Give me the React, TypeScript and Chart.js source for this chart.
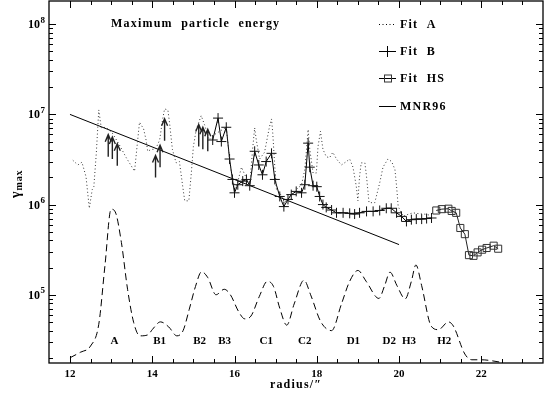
import React, { useEffect, useRef } from "react";
import { Chart, registerables } from "chart.js";
Chart.register(...registerables);

// ---- data ----
const fitAX = [12.07, 12.19, 12.29, 12.39, 12.47, 12.54, 12.58, 12.64, 12.7, 12.76, 12.88, 13.03, 13.2, 13.37, 13.57, 13.69, 13.79, 13.85, 13.89, 13.98, 14.08, 14.18, 14.25, 14.3, 14.38, 14.42, 14.49, 14.58, 14.66, 14.74, 14.79, 14.89, 14.95, 15.0, 15.07, 15.19, 15.27, 15.39, 15.52, 15.64, 15.8, 15.88, 15.95, 16.03, 16.17, 16.25, 16.37, 16.44, 16.49, 16.53, 16.61, 16.73, 16.85, 16.9, 16.93, 16.98, 17.02, 17.1, 17.22, 17.34, 17.5, 17.63, 17.71, 17.79, 17.83, 17.91, 17.99, 18.03, 18.09, 18.15, 18.23, 18.31, 18.39, 18.48, 18.6, 18.72, 18.8, 18.88, 18.96, 19.0, 19.04, 19.08, 19.17, 19.21, 19.27, 19.41, 19.53, 19.61, 19.73, 19.82, 19.9, 19.94, 19.98, 20.1, 20.22, 20.34, 20.5, 20.67, 20.83];
const fitAY = [3.1e6, 2.75e6, 2.95e6, 2.04e6, 9.1e5, 1.46e6, 1.58e6, 3.7e6, 1.12e7, 7.1e6, 7.2e6, 6.2e6, 4.6e6, 3.3e6, 2.34e6, 8.2e6, 6.9e6, 5.2e6, 3.9e6, 4.1e6, 4.1e6, 5.2e6, 8.7e6, 1.15e7, 1.12e7, 8.1e6, 4.1e6, 2.9e6, 3.0e6, 1.6e6, 1.1e6, 1.1e6, 2.24e6, 4.4e6, 6.8e6, 9.7e6, 7.7e6, 5.2e6, 6.0e6, 6.5e6, 7.2e6, 3.2e6, 1.9e6, 1.46e6, 2.6e6, 2.14e6, 1.62e6, 4.1e6, 7.1e6, 5.2e6, 3.2e6, 3.8e6, 7.3e6, 8.9e6, 6.2e6, 2.6e6, 1.46e6, 1.35e6, 1.05e6, 1.23e6, 1.46e6, 1.66e6, 2.45e6, 6.8e6, 4.1e6, 2.24e6, 2.24e6, 4.4e6, 6.5e6, 4.1e6, 3.4e6, 3.3e6, 3.8e6, 3.2e6, 2.75e6, 3.0e6, 3.2e6, 2.6e6, 1.6e6, 1.1e6, 2.04e6, 2.9e6, 2.9e6, 2.04e6, 1.05e6, 1.05e6, 1.74e6, 2.6e6, 3.2e6, 3.0e6, 2.45e6, 1.6e6, 9.5e5, 7.4e5, 7.8e5, 8.1e5, 7.9e5, 7.8e5, 7.4e5];

const fitBX = [15.47, 15.6, 15.68, 15.8, 15.88, 15.95, 16.0, 16.08, 16.2, 16.29, 16.37, 16.49, 16.59, 16.68, 16.77, 16.9, 16.98, 17.1, 17.2, 17.3, 17.38, 17.5, 17.63, 17.71, 17.79, 17.83, 17.91, 18.0, 18.07, 18.15, 18.23, 18.36, 18.48, 18.64, 18.8, 18.92, 19.04, 19.21, 19.37, 19.53, 19.69, 19.81, 19.94, 20.06, 20.18, 20.3, 20.42, 20.55, 20.67, 20.79];
const fitBY = [5.2e6, 9.1e6, 5.0e6, 7.2e6, 3.2e6, 1.9e6, 1.35e6, 1.66e6, 1.82e6, 1.9e6, 1.62e6, 3.9e6, 2.75e6, 2.14e6, 3.0e6, 3.7e6, 1.9e6, 1.23e6, 9.5e5, 1.14e6, 1.29e6, 1.4e6, 1.35e6, 1.66e6, 4.8e6, 2.6e6, 1.62e6, 1.58e6, 1.23e6, 1.0e6, 9.3e5, 8.7e5, 8.1e5, 8.1e5, 8.0e5, 7.85e5, 8.1e5, 8.4e5, 8.4e5, 8.6e5, 9.1e5, 9.1e5, 8.1e5, 7.4e5, 6.5e5, 6.8e5, 6.9e5, 6.9e5, 7.0e5, 7.1e5];

// lower limits (arrows) of Fit B
const limitX = [12.93, 13.03, 13.15, 14.08, 14.19, 14.3, 15.13, 15.23, 15.35];
const limitY = [3.4e6, 3.2e6, 2.7e6, 2.0e6, 2.6e6, 5.1e6, 4.4e6, 4.1e6, 3.9e6];

const fitHSX = [20.905, 21.04, 21.2, 21.28, 21.39, 21.49, 21.6, 21.7, 21.81, 21.91, 22.02, 22.13, 22.3, 22.41];
const fitHSY = [8.6e5, 8.9e5, 9.0e5, 8.5e5, 8.1e5, 5.5e5, 4.7e5, 2.75e5, 2.7e5, 2.95e5, 3.16e5, 3.3e5, 3.5e5, 3.24e5];

const mnrX = [12, 20];
const mnrY = [1.0e7, 3.6e5];

const profileX = [12.0, 12.25, 12.5, 12.7, 12.85, 13.0, 13.1, 13.25, 13.4, 13.55, 13.7, 13.9, 14.0, 14.2, 14.4, 14.6, 14.75, 14.9, 15.05, 15.2, 15.35, 15.55, 15.75, 15.9, 16.1, 16.25, 16.4, 16.6, 16.8, 16.95, 17.1, 17.27, 17.45, 17.69, 17.85, 18.1, 18.36, 18.6, 18.8, 19.0, 19.2, 19.51, 19.65, 19.78, 19.95, 20.15, 20.3, 20.41, 20.55, 20.78, 20.96, 21.2, 21.32, 21.6, 21.77, 22.0, 22.5];
const profileY = [2.0e4, 2.3e4, 2.7e4, 4.7e4, 2.1e5, 8.9e5, 8.3e5, 3.8e5, 1.15e5, 4.9e4, 3.5e4, 3.6e4, 4.1e4, 5.0e4, 4.4e4, 3.5e4, 4.0e4, 6.9e4, 1.23e5, 1.8e5, 1.55e5, 1.0e5, 1.15e5, 1.0e5, 6.5e4, 5.4e4, 5.8e4, 9.5e4, 1.41e5, 1.23e5, 7.1e4, 4.6e4, 7.9e4, 1.45e5, 1.0e5, 5.0e4, 4.0e4, 7.9e4, 1.41e5, 1.86e5, 1.41e5, 9.1e4, 1.26e5, 1.78e5, 1.26e5, 9.0e4, 1.41e5, 2.14e5, 1.26e5, 4.5e4, 4.1e4, 5.0e4, 4.5e4, 2.2e4, 1.9e4, 1.9e4, 1.78e4];

const regionNames = ["A", "B1", "B2", "B3", "C1", "C2", "D1", "D2", "H3", "H2"];
const regionX = [13.08, 14.18, 15.15, 15.76, 16.77, 17.71, 18.89, 19.76, 20.24, 21.1];
const regionLevel = 3.06e4;

const xTickValues = [12, 14, 16, 18, 20, 22];
const yTickValues = [1e5, 1e6, 1e7, 1e8];
const yTickExp = ["5", "6", "7", "8"];

const legendNames = ["Fit  A", "Fit  B", "Fit  HS", "MNR96"];
const titleText = "Maximum  particle  energy";
const xTitle = "radius/\u2033";

const FONT = '"Liberation Serif", "DejaVu Serif", serif';

const pts = (xs: number[], ys: number[]) => xs.map((x, i) => ({ x, y: ys[i] }));

const decor = {
  id: "decor",
  afterDraw(chart: any) {
    const { ctx, chartArea: a, scales } = chart;
    const xs = scales.x;
    const ys = scales.y;
    ctx.save();
    ctx.strokeStyle = "#000";
    ctx.fillStyle = "#000";
    // frame
    ctx.lineWidth = 1.3;
    ctx.strokeRect(a.left, a.top, a.right - a.left, a.bottom - a.top);
    // x ticks
    ctx.lineWidth = 1;
    ctx.beginPath();
    for (let v = 11.5; v <= 23.5; v += 0.5) {
      const p = Math.round(xs.getPixelForValue(v)) + 0.5;
      if (p <= a.left + 1 || p >= a.right - 1) continue;
      const len = Math.abs(v % 2) < 1e-6 ? 7 : 4;
      ctx.moveTo(p, a.bottom);
      ctx.lineTo(p, a.bottom - len);
      ctx.moveTo(p, a.top);
      ctx.lineTo(p, a.top + len);
    }
    // y ticks
    for (let d = 4; d <= 8; d++) {
      for (let m = 1; m <= 9; m++) {
        const v = m * Math.pow(10, d);
        if (v <= ys.min || v >= ys.max) continue;
        const p = Math.round(ys.getPixelForValue(v)) + 0.5;
        const len = m === 1 ? 7 : 4;
        ctx.moveTo(a.left, p);
        ctx.lineTo(a.left + len, p);
        ctx.moveTo(a.right, p);
        ctx.lineTo(a.right - len, p);
      }
    }
    ctx.stroke();

    // y tick labels: 10 with superscript exponent
    yTickValues.forEach((v, i) => {
      const py = ys.getPixelForValue(v);
      ctx.font = "bold 9px " + FONT;
      ctx.textAlign = "right";
      ctx.textBaseline = "middle";
      const ew = ctx.measureText(yTickExp[i]).width;
      ctx.fillText(yTickExp[i], 45, py - 4);
      ctx.font = "bold 12px " + FONT;
      ctx.fillText("10", 45 - ew - 0.5, py + 1);
    });

    // lower-limit arrows
    ctx.save();
    ctx.beginPath();
    ctx.rect(a.left, a.top, a.right - a.left, a.bottom - a.top);
    ctx.clip();
    ctx.strokeStyle = "#222";
    ctx.lineWidth = 1.4;
    limitX.forEach((lx, i) => {
      const px = xs.getPixelForValue(lx);
      const py = ys.getPixelForValue(limitY[i]);
      ctx.beginPath();
      ctx.moveTo(px, py);
      ctx.lineTo(px, py - 22);
      ctx.moveTo(px - 3, py - 15);
      ctx.lineTo(px, py - 22);
      ctx.lineTo(px + 3, py - 15);
      ctx.stroke();
    });
    ctx.restore();

    // region labels
    ctx.font = "bold 11px " + FONT;
    ctx.textAlign = "center";
    ctx.textBaseline = "middle";
    const ly = ys.getPixelForValue(regionLevel);
    regionNames.forEach((n, i) => {
      ctx.fillText(n, xs.getPixelForValue(regionX[i]), ly);
    });

    // title
    ctx.font = "bold 12px " + FONT;
    (ctx as any).letterSpacing = "1.2px";
    ctx.textAlign = "left";
    ctx.fillText(titleText, 111, 24);

    // legend
    const rows = [24, 51, 78, 106];
    rows.forEach((ry, i) => {
      ctx.beginPath();
      ctx.lineWidth = 1;
      ctx.strokeStyle = "#000";
      if (i === 0) ctx.setLineDash([1, 2.5]);
      else ctx.setLineDash([]);
      ctx.moveTo(379, ry + 0.5);
      ctx.lineTo(396, ry + 0.5);
      ctx.stroke();
      ctx.setLineDash([]);
      if (i === 1) {
        ctx.beginPath();
        ctx.moveTo(387.5, ry - 5);
        ctx.lineTo(387.5, ry + 6);
        ctx.stroke();
      }
      if (i === 2) {
        ctx.strokeStyle = "#333";
        ctx.strokeRect(384.5, ry - 3, 7, 7);
      }
      ctx.fillText(legendNames[i], 400, ry + 1);
    });

    // axis titles
    ctx.textAlign = "center";
    ctx.fillText(xTitle, 296, 385);
    (ctx as any).letterSpacing = "0px";
    ctx.translate(16, 198);
    ctx.rotate(-Math.PI / 2);
    ctx.textAlign = "left";
    ctx.font = "bold 14px " + FONT;
    ctx.fillText("\u03b3", 0, 0);
    const gw = ctx.measureText("\u03b3").width;
    ctx.font = "bold 10px " + FONT;
    (ctx as any).letterSpacing = "0.8px";
    ctx.fillText("max", gw + 1, 3);
    ctx.restore();
  },
};

export default function App() {
  const ref = useRef<HTMLCanvasElement>(null);
  useEffect(() => {
    document.body.style.margin = "0";
    const chart = new Chart(ref.current!, {
      type: "line",
      data: {
        datasets: [
          {
            label: "Fit A",
            data: pts(fitAX, fitAY),
            borderColor: "#333",
            borderWidth: 1,
            borderDash: [1, 2.5],
            pointRadius: 0,
            tension: 0,
          },
          {
            label: "Fit B",
            data: pts(fitBX, fitBY),
            borderColor: "#000",
            borderWidth: 1,
            pointStyle: "cross",
            pointRadius: 5,
            pointBorderColor: "#111",
            pointBorderWidth: 1,
            tension: 0,
          },
          {
            label: "Fit HS",
            data: pts(fitHSX, fitHSY),
            borderColor: "#222",
            borderWidth: 1,
            pointStyle: "rect",
            pointRadius: 5,
            pointBackgroundColor: "rgba(0,0,0,0)",
            pointBorderColor: "#333",
            pointBorderWidth: 1,
            tension: 0,
          },
          {
            label: "MNR96",
            data: pts(mnrX, mnrY),
            borderColor: "#000",
            borderWidth: 1,
            pointRadius: 0,
          },
          {
            label: "profile",
            data: pts(profileX, profileY),
            borderColor: "#000",
            borderWidth: 1,
            borderDash: [7, 4],
            pointRadius: 0,
            cubicInterpolationMode: "monotone",
          },
        ],
      },
      options: {
        animation: false,
        responsive: false,
        layout: { autoPadding: false, padding: { top: 1, right: 1, left: 0, bottom: 0 } },
        plugins: { legend: { display: false }, tooltip: { enabled: false } },
        scales: {
          x: {
            type: "linear",
            min: 11.49,
            max: 23.5,
            grid: { display: false, drawTicks: false },
            border: { display: false },
            afterBuildTicks: (s: any) => {
              s.ticks = xTickValues.map((v) => ({ value: v }));
            },
            afterFit: (s: any) => {
              s.height = 35;
              s.paddingLeft = 0;
              s.paddingRight = 0;
            },
            ticks: {
              padding: 5,
              color: "#000",
              font: { family: FONT, size: 11, weight: "bold" },
              maxRotation: 0,
              autoSkip: false,
              callback: (v: any) => String(v),
            },
          },
          y: {
            type: "logarithmic",
            min: 1.75e4,
            max: 1.81e8,
            grid: { display: false, drawTicks: false },
            border: { display: false },
            afterBuildTicks: (s: any) => {
              s.ticks = yTickValues.map((v) => ({ value: v }));
            },
            afterFit: (s: any) => {
              s.width = 49;
              s.paddingTop = 0;
              s.paddingBottom = 0;
            },
            ticks: {
              display: false,
            },
          },
        },
      },
      plugins: [decor],
    } as any);
    return () => chart.destroy();
  }, []);
  return (
    <div style={{ width: 544, height: 398 }}>
      <canvas ref={ref} width={544} height={398} />
    </div>
  );
}
